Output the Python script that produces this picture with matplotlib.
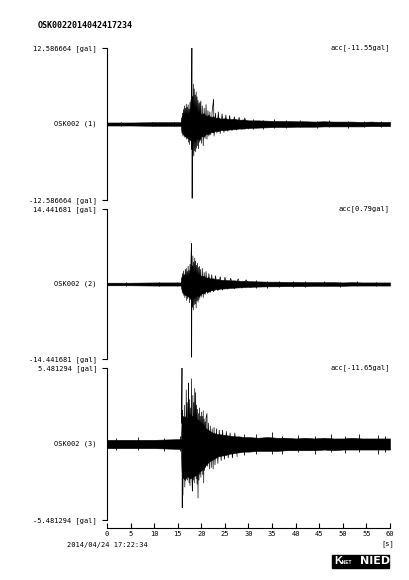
import matplotlib
matplotlib.use("Agg")
import matplotlib.pyplot as plt
from matplotlib.patches import Rectangle

MONO = "DejaVu Sans Mono"

title = "OSK0022014042417234"
station = "OSK002"
start_time = "2014/04/24 17:22:34"
x_ticks = [0, 5, 10, 15, 20, 25, 30, 35, 40, 45, 50, 55, 60]

# full scale of each channel [gal] and the peak text
scales = [12.586664, 14.441681, 5.481294]
acc_labels = ["acc[-11.55gal]", "acc[0.79gal]", "acc[-11.65gal]"]

# noise band (envelope), per channel
band_t = [0, 5, 10, 15, 15.7, 15.8, 16.0, 16.5, 17.0, 17.5, 18.0, 18.5, 19.0,
          19.5, 20.0, 20.5, 21, 21.5, 22, 22.5, 23, 23.5, 24, 25, 26, 27, 28,
          29, 30, 32, 34, 36, 38, 40, 42, 44, 46, 48, 50, 52, 54, 56, 58, 60]

band1_hi = [0.25, 0.25, 0.3, 0.3, 0.3, 1.0, 1.4, 1.8, 1.6, 2.0, 2.2, 2.4, 1.9,
            2.1, 1.6, 1.8, 1.3, 1.5, 1.1, 1.3, 1.0, 1.1, 0.9, 0.95, 0.8, 0.85, 0.7,
            0.75, 0.6, 0.6, 0.55, 0.5, 0.5, 0.45, 0.45, 0.4, 0.45, 0.4, 0.4, 0.4,
            0.35, 0.4, 0.35, 0.35]
band1_lo = [-0.25, -0.25, -0.3, -0.3, -0.3, -1.2, -1.6, -2.0, -2.3, -2.5, -2.7,
            -2.9, -2.4, -2.6, -2.0, -2.1, -1.6, -1.7, -1.3, -1.4, -1.1, -1.2, -1.0,
            -1.0, -0.9, -0.85, -0.75, -0.75, -0.65, -0.6, -0.55, -0.5, -0.5, -0.45,
            -0.45, -0.45, -0.4, -0.4, -0.4, -0.4, -0.4, -0.35, -0.35, -0.35]

band2_hi = [0.25, 0.25, 0.3, 0.3, 0.3, 1.0, 1.5, 1.9, 1.7, 2.1, 2.4, 2.2, 1.8,
            1.9, 1.5, 1.6, 1.2, 1.3, 1.0, 1.1, 0.9, 0.95, 0.8, 0.8, 0.7, 0.7, 0.6,
            0.6, 0.55, 0.5, 0.45, 0.45, 0.4, 0.4, 0.35, 0.35, 0.35, 0.35, 0.3, 0.35,
            0.3, 0.3, 0.3, 0.3]
band2_lo = [-0.25, -0.25, -0.3, -0.3, -0.3, -1.1, -1.6, -2.1, -2.2, -2.6, -2.9,
            -2.6, -2.2, -2.3, -1.8, -1.8, -1.4, -1.5, -1.2, -1.2, -1.0, -1.0, -0.9,
            -0.85, -0.75, -0.7, -0.65, -0.6, -0.55, -0.5, -0.45, -0.45, -0.4, -0.4,
            -0.4, -0.35, -0.35, -0.35, -0.35, -0.3, -0.3, -0.3, -0.3, -0.3]

band3_hi = [0.3, 0.3, 0.3, 0.35, 0.35, 1.4, 1.9, 2.0, 1.8, 2.2, 2.0, 2.1, 1.8,
            1.7, 1.5, 1.4, 1.1, 1.0, 0.9, 0.8, 0.75, 0.7, 0.7, 0.65, 0.6, 0.55,
            0.55, 0.5, 0.5, 0.45, 0.5, 0.45, 0.45, 0.4, 0.45, 0.4, 0.45, 0.4, 0.4,
            0.45, 0.4, 0.4, 0.4, 0.4]
band3_lo = [-0.3, -0.3, -0.3, -0.35, -0.35, -1.9, -2.4, -2.6, -2.3, -2.5, -2.4,
            -2.3, -2.2, -2.0, -1.9, -1.7, -1.5, -1.3, -1.2, -1.1, -1.0, -0.9, -0.85,
            -0.8, -0.7, -0.65, -0.6, -0.55, -0.55, -0.5, -0.5, -0.5, -0.45, -0.45,
            -0.45, -0.45, -0.4, -0.45, -0.4, -0.4, -0.4, -0.4, -0.4, -0.4]

# individual swings of the strong motion part
pk1_t = [15.8, 15.9, 16.0, 16.1, 16.2, 16.3, 16.4, 16.5, 16.6, 16.7, 16.8, 16.9,
         17.0, 17.1, 17.2, 17.3, 17.4, 17.5, 17.6, 17.7, 17.8, 17.9, 18.0, 18.05,
         18.1, 18.2, 18.3, 18.4, 18.5, 18.6, 18.7, 18.8, 18.9, 19.0, 19.1, 19.2,
         19.3, 19.4, 19.5, 19.6, 19.7, 19.8, 19.9, 20.0, 20.2, 20.4, 20.6, 20.8,
         21.0, 21.2, 21.4, 21.6, 21.8, 22.0, 22.3, 22.6, 22.7, 23.0, 23.3, 23.6,
         24.0, 24.4, 24.8, 25.2, 25.6, 26.0, 26.5, 27.0, 27.5, 28.0, 28.6, 29.2, 30.0]
pk1_a = [1.0, -1.5, 1.8, -2.0, 2.4, -1.6, 3.0, -2.2, 2.6, -2.0, 3.3, -2.5,
         2.8, -2.3, 3.2, -3.0, 2.5, -3.4, 3.6, -2.8, 4.0, -4.2, 12.6, -12.3,
         4.5, -5.0, 6.6, -5.3, 5.8, -4.4, 4.8, -4.6, 5.3, -4.0, 4.5, -3.6,
         3.9, -4.1, 3.4, -3.0, 3.6, -2.7, 3.8, -3.2, 3.0, -3.6, 2.6, -2.4,
         3.2, -2.5, 2.2, -2.0, 2.0, -1.8, 2.2, 4.1, -2.0, 1.8, -1.5, 2.0,
         -1.6, 1.7, -1.4, 1.5, -1.2, 1.4, -1.1, 1.2, -1.0, 1.1, -0.9, 1.0, -0.8]

pk2_t = [15.8, 15.9, 16.0, 16.1, 16.2, 16.3, 16.4, 16.5, 16.6, 16.7, 16.8, 16.9,
         17.0, 17.1, 17.2, 17.3, 17.4, 17.5, 17.6, 17.7, 17.8, 17.9, 17.95, 18.0,
         18.1, 18.2, 18.3, 18.4, 18.5, 18.6, 18.7, 18.8, 18.9, 19.0, 19.1, 19.2,
         19.3, 19.4, 19.5, 19.6, 19.7, 19.8, 20.0, 20.2, 20.4, 20.6, 20.8, 21.0,
         21.3, 21.6, 21.9, 22.2, 22.6, 23.0, 23.5, 24.0, 24.5, 25.0, 25.6, 26.2,
         27.0, 27.8, 28.6, 29.5, 30.5]
pk2_a = [1.2, -1.0, 2.0, -1.8, 2.5, -2.2, 1.8, -2.6, 2.8, -2.0, 3.0, -3.2,
         2.4, -2.8, 3.4, -2.5, 2.6, -3.6, 3.8, -3.0, 4.5, 7.8, -14.1, 3.5,
         -4.5, 5.4, -5.0, 4.2, -4.0, 5.0, -3.8, 4.4, -4.6, 3.6, -3.2, 4.0,
         -3.5, 3.2, -3.0, 3.4, -2.6, 2.8, -2.4, 3.0, -2.6, 2.2, -2.0, 2.4,
         -1.8, 2.0, -1.6, 1.8, -1.5, 1.6, -1.3, 1.4, -1.2, 1.3, -1.0, 1.1,
         -0.9, 1.0, -0.8, 0.8, -0.7]

pk3_t = [15.8, 15.9, 15.95, 16.0, 16.1, 16.2, 16.3, 16.4, 16.5, 16.6, 16.7, 16.8,
         16.9, 17.0, 17.1, 17.2, 17.3, 17.4, 17.5, 17.6, 17.7, 17.8, 17.9, 18.0,
         18.1, 18.2, 18.3, 18.4, 18.5, 18.6, 18.7, 18.8, 18.9, 19.0, 19.1, 19.2,
         19.3, 19.4, 19.5, 19.6, 19.7, 19.8, 19.9, 20.0, 20.1, 20.2, 20.3, 20.4,
         20.5, 20.6, 20.7, 20.8, 20.9, 21.0, 21.2, 21.3, 21.5, 21.7, 21.9, 22.1,
         22.3, 22.5, 22.7, 22.9, 23.2, 23.5, 23.8, 24.2, 24.5, 24.9, 25.3, 25.7,
         26.1, 26.6, 27.1, 27.6]
pk3_a = [1.5, 5.5, -4.6, 2.4, -3.7, 2.0, -2.2, 2.8, -3.1, 1.7, -2.5, 3.9,
         -2.0, 3.0, -2.6, 2.2, 4.4, -2.8, 3.2, -3.0, 2.6, -2.2, 4.7, -2.4,
         -3.4, 3.5, -2.6, 3.0, -2.8, 4.0, -2.3, 3.7, -2.5, 2.8, -2.9, 2.5,
         -3.9, 2.2, -2.6, 2.6, -2.2, 2.0, -2.4, 2.3, -1.8, 2.0, -2.2, 2.4,
         -2.8, 1.8, -1.9, 1.6, -1.7, 1.9, 2.2, -1.6, 1.5, -1.8, 1.3, -1.7,
         1.1, -1.8, 1.2, -1.5, 1.1, -1.4, 1.0, -1.2, 1.0, -1.1, 0.9, -1.0,
         0.8, -1.0, 0.8, -0.9]

# small bumps sticking out of the noise in the quiet parts (time, top, bottom)
tail1_t = [3.0, 9.5, 14.2, 31.0, 33.0, 35.5, 38.0, 41.0, 44.5, 47.0, 51.0, 54.5, 58.0]
tail1_hi = [0.4, 0.35, 0.4, 0.9, 0.7, 0.75, 0.6, 0.65, 0.55, 0.6, 0.55, 0.5, 0.55]
tail1_lo = [-0.35, -0.4, -0.4, -0.8, -0.85, -0.6, -0.7, -0.55, -0.6, -0.5, -0.6, -0.5, -0.45]

tail2_t = [4.0, 11.0, 14.8, 31.5, 34.0, 36.5, 39.5, 42.0, 46.0, 49.5, 53.0, 57.0]
tail2_hi = [0.35, 0.4, 0.35, 0.75, 0.6, 0.65, 0.5, 0.55, 0.5, 0.45, 0.5, 0.45]
tail2_lo = [-0.4, -0.35, -0.4, -0.7, -0.7, -0.55, -0.6, -0.5, -0.45, -0.5, -0.45, -0.45]

tail3_t = [2.0, 6.5, 12.0, 15.4, 29.0, 31.5, 35.0, 37.0, 40.5, 44.0, 47.5, 50.5,
           53.5, 57.5, 59.0]
tail3_hi = [0.45, 0.5, 0.45, 0.6, 0.75, 0.7, 0.9, 0.6, 0.65, 0.6, 0.7, 0.6, 0.75,
            0.65, 0.6]
tail3_lo = [-0.45, -0.4, -0.5, -0.5, -0.8, -0.7, -0.7, -0.75, -0.6, -0.7, -0.6,
            -0.65, -0.6, -0.7, -0.55]

bands = [(band1_hi, band1_lo), (band2_hi, band2_lo), (band3_hi, band3_lo)]
peaks = [(pk1_t, pk1_a), (pk2_t, pk2_a), (pk3_t, pk3_a)]
tails = [(tail1_t, tail1_hi, tail1_lo), (tail2_t, tail2_hi, tail2_lo),
         (tail3_t, tail3_hi, tail3_lo)]

W, H = 410, 580
fig = plt.figure(figsize=(W / 100, H / 100), dpi=100)

# panel edges in pixels (top, bottom)
panel_px = [(48, 200), (209, 359), (368, 520)]
x0, x1 = 107, 390


def fx(px):
    return px / W


def fy(py):
    return 1 - py / H


for i in range(3):
    top, bot = panel_px[i]
    ax = fig.add_axes([fx(x0), fy(bot), fx(x1 - x0), (bot - top) / H])
    s = scales[i]
    bhi, blo = bands[i]
    ax.fill_between(band_t, blo, bhi, color="black", linewidth=0.4)
    tt, thi, tlo = tails[i]
    ax.vlines(tt, tlo, thi, color="black", linewidth=0.6)
    pt, pa = peaks[i]
    ax.plot(pt, pa, color="black", linewidth=0.5)
    ax.set_xlim(0, 60)
    ax.set_ylim(-s, s)
    for side in ["top", "right", "bottom"]:
        ax.spines[side].set_visible(False)
    ax.spines["left"].set_linewidth(0.8)
    ax.set_xticks([])
    ax.set_yticks([s, -s])
    ax.set_yticklabels([f"{s:.6f} [gal]", f"{-s:.6f} [gal]"],
                       fontfamily=MONO, fontsize=5)
    ax.tick_params(axis="y", direction="out", length=3.6, width=0.8, pad=3.5)
    fig.text(fx(97), fy((top + bot) / 2), f"{station} ({i + 1})",
             ha="right", va="center", fontfamily=MONO, fontsize=5)
    fig.text(fx(x1), fy(top), acc_labels[i], ha="right", va="center",
             fontfamily=MONO, fontsize=5)

# time axis
tax = fig.add_axes([fx(x0), fy(528), fx(x1 - x0), 0.0001])
tax.set_xlim(0, 60)
tax.set_yticks([])
for side in ["top", "right", "left"]:
    tax.spines[side].set_visible(False)
tax.spines["bottom"].set_linewidth(0.8)
tax.set_xticks(x_ticks)
tax.set_xticklabels([str(v) for v in x_ticks], fontfamily=MONO, fontsize=5)
tax.tick_params(axis="x", direction="in", length=3.6, width=0.8, pad=2)

fig.text(fx(388), fy(544), "[s]", ha="center", va="center",
         fontfamily=MONO, fontsize=5)
fig.text(fx(107), fy(545), start_time, ha="center", va="center",
         fontfamily=MONO, fontsize=5)
fig.text(fx(38), fy(25), title, ha="left", va="center",
         fontfamily=MONO, fontsize=6, fontweight="bold")

# K-NET NIED logo
fig.patches.append(Rectangle((fx(332), fy(568)), fx(57), 13 / H,
                             transform=fig.transFigure, facecolor="black",
                             edgecolor="black", zorder=5))
fig.text(fx(334), fy(561.5), "K", ha="left", va="center", color="white",
         fontsize=8, fontweight="bold", family="Liberation Sans", zorder=6)
fig.text(fx(341), fy(563), "-NET", ha="left", va="center", color="white",
         fontsize=3.5, fontweight="bold", family="Liberation Sans", zorder=6)
fig.text(fx(360), fy(561.5), "NIED", ha="left", va="center", color="white",
         fontsize=8, fontweight="bold", family="Liberation Sans Narrow", zorder=6)

fig.savefig("out.png", dpi=100, facecolor="white")
